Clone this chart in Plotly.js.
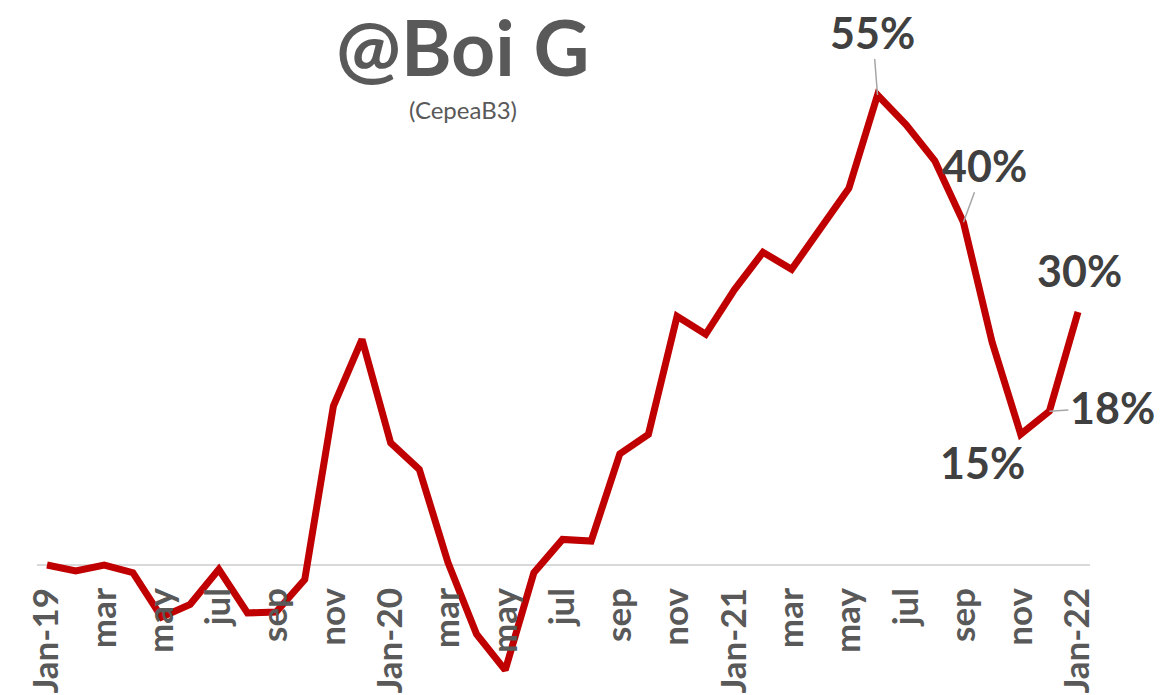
<!DOCTYPE html>
<html>
<head>
<meta charset="utf-8">
<script src="https://cdn.plot.ly/plotly-3.0.1.min.js"></script>
<style>html,body{margin:0;padding:0;background:#fff;}#chart{width:1176px;height:695px;}</style>
</head>
<body>
<div id="chart"></div>
<script>
// Monthly values (%), Jan-19 .. Jan-22
var months = ["Jan-19","feb","mar","apr","may","jun","jul","aug","sep","oct","nov","dec",
              "Jan-20","feb","mar","apr","may","jun","jul","aug","sep","oct","nov","dec",
              "Jan-21","feb","mar","apr","may","jun","jul","aug","sep","oct","nov","dec",
              "Jan-22"];
var values = [0.0, -0.7, 0.0, -0.9, -6.1, -4.6, -0.5, -5.6, -5.5, -1.7, 18.6, 26.4,
              14.3, 11.2, 0.3, -8.1, -12.3, -0.9, 3.0, 2.8, 13.0, 15.3, 29.1, 27.0,
              32.2, 36.6, 34.6, 39.3, 44.1, 55.0, 51.5, 47.3, 40.1, 26.1, 15.3, 18.0,
              29.6];
var labelIdx = [29, 32, 34, 35, 36];
var labelAx  = [-5, 21, -38, 63, 1];
var labelAy  = [-63, -57, 28, -4, -42];
var labelLeader = [true, true, false, true, false];

var idx = months.map(function(_, i){ return i; });
var tickVals = idx.filter(function(i){ return i % 2 === 0; });
var tickText = tickVals.map(function(i){ return months[i]; });

var trace = {
  x: idx, y: values, type: 'scatter', mode: 'lines',
  line: {color: '#C00000', width: 7},
  hoverinfo: 'skip'
};

var annotations = labelIdx.map(function(i, k){
  return {
    x: i, y: values[i], xref: 'x', yref: 'y',
    text: Math.round(values[i]) + '%',
    showarrow: true, arrowhead: 0, arrowwidth: 1.5,
    arrowcolor: labelLeader[k] ? '#A6A6A6' : 'rgba(0,0,0,0)',
    ax: labelAx[k], ay: labelAy[k],
    font: {family: 'Lato, sans-serif', size: 43, color: '#404040', weight: 'bold'},
    standoff: 0
  };
});
annotations.push({
  xref: 'paper', yref: 'paper', x: 463/1176, y: (695-109)/695,
  xanchor: 'center', yanchor: 'middle', showarrow: false,
  text: '(CepeaB3)',
  font: {family: 'Lato, sans-serif', size: 24, color: '#595959'}
});
annotations.push({
  xref: 'paper', yref: 'paper', x: 463/1176, y: (695-46)/695,
  xanchor: 'center', yanchor: 'middle', showarrow: false,
  text: '<b>@Boi G</b>',
  font: {family: 'Lato, sans-serif', size: 77, color: '#595959'}
});

var layout = {
  width: 1176, height: 695,
  margin: {l: 0, r: 0, t: 0, b: 0},
  paper_bgcolor: '#ffffff', plot_bgcolor: '#ffffff',
  showlegend: false,
  xaxis: {
    domain: [37/1176, 1090/1176],
    range: [-0.349, 36.419],
    anchor: 'free', position: 130/695,
    tickmode: 'array', tickvals: tickVals, ticktext: tickText,
    tickangle: -90, ticks: '', ticklabelstandoff: 15,
    tickfont: {family: 'Lato, sans-serif', size: 35, color: '#595959', weight: 'bold'},
    showgrid: false, zeroline: false, showline: false, automargin: false,
    fixedrange: true
  },
  yaxis: {
    domain: [0, 1],
    range: [-15.21, 66.12],
    showticklabels: false, showgrid: false, ticks: '',
    zeroline: true, zerolinecolor: '#D9D9D9', zerolinewidth: 2,
    showline: false, automargin: false, fixedrange: true
  },
  annotations: annotations
};

Plotly.newPlot('chart', [trace], layout, {displayModeBar: false, staticPlot: true});
</script>
</body>
</html>
